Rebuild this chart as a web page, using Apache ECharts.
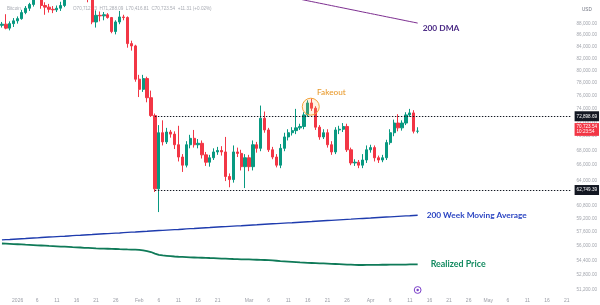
<!DOCTYPE html>
<html><head><meta charset="utf-8">
<script src="https://cdn.jsdelivr.net/npm/echarts@6/dist/echarts.min.js"></script>
<style>html,body{margin:0;padding:0;background:#fff}#c{width:600px;height:305px}</style>
</head><body><div id="c"></div>
<script>
// ---------- data ----------
const startDate = '2025-12-28';
const endDate = '2026-05-22';
const candleOpen = [87700,87900,87200,88000,88500,88900,90000,90800,91500,93800,
 93600,91300,91000,90600,90500,90800,91300,95400,96900,95600,
 95500,95100,93600,92600,88300,89500,89400,89600,89100,86600,
 88300,89200,89100,84500,84100,78600,77000,78700,75700,73000,
 62900,70500,69200,70600,70300,68800,67100,66000,68800,69700,
 68800,69000,67400,66400,67000,67800,68000,67800,64500,64100,
 67800,67600,65800,67000,65800,68800,68300,72600,70900,68100,
 67100,66000,68300,69900,70500,70800,71200,71400,73100,74900,
 74100,71300,69900,70500,68800,67800,70900,71000,71400,68100,
 66300,66400,66000,66700,68100,68400,67000,66700,67000,69100,
 70500,71900,71200,71900,73100,73400,70712.23];
const candleClose = [87900,87200,88000,88500,88900,90000,90800,91500,93800,93600,
 91300,91000,90600,90500,90800,91300,95400,96900,95600,95500,
 95100,93600,92600,88300,89500,89400,89600,89100,86600,88300,
 89200,89100,84500,84100,78600,77000,78700,75700,73000,62900,
 70500,69200,70600,70300,68800,67100,66000,68800,69700,68800,
 69000,67400,66400,67000,67800,68000,67800,64500,64100,67800,
 67600,65800,67000,65800,68800,68300,72600,70900,68100,67100,
 66000,68300,69900,70500,70800,71200,71400,73100,74900,74100,
 71300,69900,70500,68800,67800,70900,71000,71400,68100,66300,
 66400,66000,66700,68100,68400,67000,66700,67000,69100,70500,
 71900,71200,71900,73100,73400,70712.23,70723.54];
const candleHigh = [88300,89700,88400,89000,89300,90500,91200,91800,94600,94800,
 94200,91900,91600,91200,91300,92000,96400,97900,97200,95900,
 95600,95500,93700,92800,90400,90200,90100,89900,89200,88600,
 90300,89600,89300,85000,84300,79300,79300,79000,76800,73300,
 71600,72300,71200,70900,70700,71500,67500,69300,70200,70900,
 69600,69400,67800,67400,68300,68500,68600,69900,64900,68700,
 68400,68100,67500,67400,69400,69200,74500,73600,71200,68500,
 67500,68900,70500,71000,71300,74000,71800,73500,75300,75600,
 74400,71600,71000,71000,69300,71300,71500,71900,71800,68400,
 66800,66700,67500,68700,68800,68700,67300,67400,69500,71000,
 72400,73200,72300,73500,74000,73800,71288.09];
const candleLow = [87300,87000,86800,87400,88000,88700,89700,90300,91100,92600,
 90700,89600,90000,89900,90100,90300,91000,94700,94900,94500,
 94900,92900,91900,87900,87300,88400,88600,88900,86300,86100,
 87900,88600,83800,83300,78200,75800,76600,75000,72800,62500,
 60000,68700,68900,69800,68200,66500,65100,65700,68300,68400,
 68300,66900,65900,65800,66700,67400,67300,63900,63100,63700,
 67100,65300,63000,65200,65300,67700,67900,70500,67800,66800,
 65700,65600,67900,69400,70100,70300,70900,71000,72800,73700,
 70900,69500,69600,68400,67400,67500,70300,70600,67800,66000,
 65900,65600,65600,66300,67700,66500,66300,66400,66700,68800,
 70000,70700,70800,71600,72800,70400,70416.81];
const dma200Start = '2026-03-08';
const dma200 = [93390,93240,93090,92940,92780,92630,92480,92330,92180,92030,
 91880,91730,91590,91440,91290,91140,90990,90850,90700,90550,
 90410,90260,90110,89970,89820,89680,89530,89390,89240,89100,
 88960,88810,88670,88520,88380,88240,88100];
const wma200 = [56700,56730,56750,56780,56810,56840,56860,56890,56920,56940,
 56970,57000,57030,57050,57080,57110,57130,57160,57190,57220,
 57240,57270,57300,57320,57350,57380,57410,57430,57460,57490,
 57510,57540,57570,57600,57620,57650,57680,57700,57730,57760,
 57790,57810,57840,57870,57900,57920,57950,57980,58010,58030,
 58060,58090,58120,58140,58170,58200,58230,58250,58280,58310,
 58340,58360,58390,58420,58450,58470,58500,58530,58560,58590,
 58610,58640,58670,58700,58720,58750,58780,58810,58840,58860,
 58890,58920,58950,58980,59000,59030,59060,59090,59120,59140,
 59170,59200,59230,59260,59280,59310,59340,59370,59400,59420,
 59450,59480,59510,59540,59560,59590,59620];
const realizedPrice = [56290,56270,56250,56220,56200,56180,56150,56130,56110,56080,
 56060,56040,56010,55990,55970,55940,55920,55900,55870,55850,
 55830,55800,55780,55760,55730,55710,55700,55690,55670,55660,
 55640,55630,55610,55600,55580,55560,55500,55420,55320,55150,
 55000,54940,54900,54860,54820,54790,54770,54750,54730,54710,
 54690,54680,54660,54650,54630,54610,54590,54580,54560,54540,
 54530,54510,54500,54490,54470,54460,54450,54430,54410,54380,
 54350,54310,54280,54250,54220,54190,54160,54140,54120,54100,
 54080,54060,54050,54030,54010,53990,53970,53950,53930,53920,
 53900,53880,53880,53890,53890,53900,53900,53910,53910,53920,
 53920,53930,53930,53930,53940,53940,53940];
const rangeHigh = 72898.69, rangeLow = 62749.39, lastPrice = 70723.54;
const lastPriceTimer = '10:23:54';
const rangeStart = '2026-02-05';
const fakeoutDate = '2026-03-17', fakeoutPrice = 74330;
const fakeoutLabelDate = '2026-03-22', fakeoutLabelPrice = 76470;
const yTicks = [88000,86000,84000,82000,80000,78000,76000,74000,72000,70000,68000,66000,64000,
 60800,59200,57600,56000,54400,52800,51200];
const yMinPrice = 50900, yMaxPrice = 92330;
const xTickLabels = [['2026-01-01','2026'],['2026-01-06','6'],['2026-01-11','11'],['2026-01-16','16'],['2026-01-21','21'],['2026-01-26','26'],
 ['2026-02-01','Feb'],['2026-02-06','6'],['2026-02-11','11'],['2026-02-16','16'],['2026-02-21','21'],
 ['2026-03-01','Mar'],['2026-03-06','6'],['2026-03-11','11'],['2026-03-16','16'],['2026-03-21','21'],['2026-03-26','26'],
 ['2026-04-01','Apr'],['2026-04-06','6'],['2026-04-11','11'],['2026-04-16','16'],['2026-04-21','21'],['2026-04-26','26'],
 ['2026-05-01','May'],['2026-05-06','6'],['2026-05-11','11'],['2026-05-16','16'],['2026-05-21','21']];
const headerText = 'O70,712.23  H71,288.09  L70,416.81  C70,723.54  +11.31 (+0.02%)';

// ---------- build ----------
const cats = [];
for (let t = Date.parse(startDate + 'T00:00:00Z'); t <= Date.parse(endDate + 'T00:00:00Z'); t += 86400000) {
  cats.push(new Date(t).toISOString().slice(0, 10));
}
const L = Math.log;
function fmtPrice(p) {
  const s = p.toFixed(2).split('.');
  return s[0].replace(/\B(?=(\d{3})+(?!\d))/g, ',') + '.' + s[1];
}
const xLabelMap = new Map(xTickLabels);
const candles = candleOpen.map((o, i) => [L(o), L(candleClose[i]), L(candleLow[i]), L(candleHigh[i])]);
const dmaOffset = cats.indexOf(dma200Start);
const dmaData = cats.slice(0, dmaOffset + dma200.length).map((c, i) => i < dmaOffset ? null : L(dma200[i - dmaOffset]));
const wmaData = wma200.map(L);
const rpData = realizedPrice.map(L);

const chart = echarts.init(document.getElementById('c'), null, {renderer: 'canvas'});
const gray = '#9a9da6';
const boldFont = 'Lato, "Open Sans", sans-serif';
chart.setOption({
  animation: false,
  backgroundColor: '#ffffff',
  textStyle: {fontFamily: '"Liberation Sans", Arial, sans-serif'},
  title: [
    {text: 'Bitcoin', left: 2, top: 1, z: 0, textStyle: {fontSize: 4.6, color: '#a9acb4', fontWeight: 'normal'}},
    {text: headerText, left: 68, top: 1, z: 0, textStyle: {fontSize: 4.6, color: '#a9acb4', fontWeight: 'normal'}},
    {text: 'USD', left: 577, top: 2, textStyle: {fontSize: 4.6, color: '#6f7380', fontWeight: 'normal'}}
  ],
  grid: {left: 0, right: 27, top: 0, bottom: 12, containLabel: false},
  xAxis: {
    type: 'category', data: cats, boundaryGap: true,
    axisLine: {show: false}, axisTick: {show: false}, splitLine: {show: false},
    axisLabel: {
      interval: (i, v) => xLabelMap.has(v),
      formatter: v => xLabelMap.get(v) || '',
      color: gray, fontSize: 5, margin: 5
    }
  },
  yAxis: {
    type: 'value', position: 'right', min: L(yMinPrice), max: L(yMaxPrice),
    axisLine: {show: false}, axisTick: {show: false}, splitLine: {show: false},
    axisLabel: {
      customValues: yTicks.map(L),
      formatter: function (v) {
        let best = yTicks[0], bd = 1e9;
        for (const t of yTicks) { const d = Math.abs(L(t) - v); if (d < bd) { bd = d; best = t; } }
        return fmtPrice(best);
      },
      color: '#a3a6ae', fontSize: 4.6, margin: 4
    }
  },
  series: [
    {
      type: 'candlestick', data: candles, barWidth: '70%', z: 3,
      itemStyle: {color: '#089981', color0: '#f23645', borderColor: '#089981', borderColor0: '#f23645', borderWidth: 1},
      markLine: {
        silent: true, symbol: 'none', animation: false,
        lineStyle: {color: '#131722', type: [1.4, 1.6], width: 1.2},
        label: {show: true, position: 'end', distance: 4, fontSize: 4.6, color: '#ffffff',
          backgroundColor: '#131722', padding: [3, 2, 2, 2]},
        data: [
          [{coord: [rangeStart, L(rangeHigh)], label: {formatter: fmtPrice(rangeHigh)}}, {coord: [endDate, L(rangeHigh)]}],
          [{coord: [rangeStart, L(rangeLow)], label: {formatter: fmtPrice(rangeLow)}}, {coord: [endDate, L(rangeLow)]}],
          {yAxis: L(lastPrice), lineStyle: {color: 'rgba(242,54,69,0)', width: 1},
            label: {show: true, position: 'end', formatter: fmtPrice(lastPrice) + '\n' + lastPriceTimer,
              backgroundColor: '#f23645', color: '#ffffff', distance: 2,
              lineHeight: 5.4, padding: [1, 2, 1, 2]}}
        ]
      },
      markPoint: {
        silent: true, animation: false,
        data: [
          {coord: [fakeoutDate, L(fakeoutPrice)], symbol: 'circle', symbolSize: 17, symbolOffset: [-1, 0],
            itemStyle: {color: 'rgba(255,190,90,0.18)', borderColor: '#f3a33a', borderWidth: 1}, label: {show: false}},
          {coord: [fakeoutLabelDate, L(fakeoutLabelPrice)], symbol: 'circle', symbolSize: 1,
            itemStyle: {color: 'rgba(0,0,0,0)'},
            label: {show: true, position: 'inside', formatter: 'Fakeout', color: '#e99b2e', fontSize: 8.2,
              fontFamily: boldFont, fontWeight: 500}}
        ]
      }
    },
    {
      type: 'line', name: '200 DMA', data: dmaData, symbol: 'none', connectNulls: false,
      lineStyle: {color: '#7d2f90', width: 1},
      endLabel: {show: true, formatter: '200 DMA', color: '#4b2a85', fontSize: 8.4, fontWeight: 'bold',
        fontFamily: boldFont, distance: 5, offset: [0, 5]}
    },
    {
      type: 'line', name: '200 Week Moving Average', data: wmaData, symbol: 'none',
      lineStyle: {color: '#1f3cae', width: 1.4},
      endLabel: {show: true, formatter: '200 Week Moving Average', color: '#2b45c2', fontSize: 8.3, fontWeight: 'bold',
        fontFamily: boldFont, distance: 9}
    },
    {
      type: 'line', name: 'Realized Price', data: rpData, symbol: 'none',
      lineStyle: {color: '#0f7a58', width: 1.8},
      endLabel: {show: true, formatter: 'Realized Price', color: '#138a60', fontSize: 8.9, fontWeight: 'bold',
        fontFamily: boldFont, distance: 13}
    }
  ]
});
// event marker icon at the last bar, bottom of the pane
const lastX = chart.convertToPixel({xAxisIndex: 0}, cats[candleOpen.length - 1]);
chart.setOption({graphic: [
  {type: 'circle', shape: {cx: lastX, cy: 290, r: 3.4}, style: {fill: '#ffffff', stroke: '#7b3fc9', lineWidth: 1}, z: 10},
  {type: 'circle', shape: {cx: lastX, cy: 290, r: 1.2}, style: {fill: '#7b3fc9'}, z: 11}
]});
</script></body></html>
